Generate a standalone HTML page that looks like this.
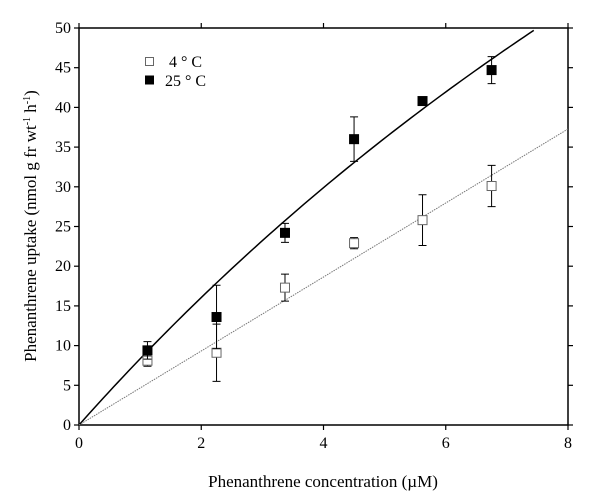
<!DOCTYPE html>
<html><head><meta charset="utf-8"><style>
body{margin:0;background:#fff}
svg{display:block;font-family:"Liberation Serif",serif}
</style></head><body>
<svg id="chart" width="600" height="501"></svg>
<script>
const xVals=[1.12,2.25,3.37,4.5,5.62,6.75];
const y4=[8.1,9.1,17.3,22.9,25.8,30.1];
const e4=[0.7,3.6,1.7,0.7,3.2,2.6];
const y25=[9.4,13.6,24.2,36.0,40.8,44.7];
const e25=[1.1,4.0,1.2,2.8,0.3,1.7];
const xTicks=[0,2,4,6,8];
const yTicks=[0,5,10,15,20,25,30,35,40,45,50];
const fit25V=216.7, fit25K=25, fit4Slope=4.66;
const NS='http://www.w3.org/2000/svg';
const svg=document.getElementById('chart');
const X0=79,X1=568,Y0=425,Y1=28;
const sx=v=>X0+(v/8)*(X1-X0);
const sy=v=>Y0-(v/50)*(Y0-Y1);
function mk(t,a,p){const e=document.createElementNS(NS,t);for(const k in a)e.setAttribute(k,a[k]);(p||svg).appendChild(e);return e;}
let fr=mk('rect',{x:X0,y:Y1,width:X1-X0,height:Y0-Y1,fill:'none',stroke:'#000','stroke-width':1.5});


xTicks.forEach(t=>{
  const x=sx(t);
  let l=mk('line',{x1:x,x2:x,y1:Y0,y2:Y0+5,stroke:'#000','stroke-width':1.2});
  
  
  let l2=mk('line',{x1:x,x2:x,y1:Y1,y2:Y1-5,stroke:'#000','stroke-width':1.2});
  
  
  let tx=mk('text',{x:x,y:Y0+23,'text-anchor':'middle','font-size':16});
  tx.textContent=t;
  
  
});
yTicks.forEach(t=>{
  const y=sy(t);
  let l=mk('line',{x1:X0-5,x2:X0,y1:y,y2:y,stroke:'#000','stroke-width':1.2});
  
  
  let l2=mk('line',{x1:X1,x2:X1+5,y1:y,y2:y,stroke:'#000','stroke-width':1.2});
  
  
  let tx=mk('text',{x:X0-8,y:y+5,'text-anchor':'end','font-size':16});
  tx.textContent=t;
  
  
});
let d='';for(let i=0;i<=100;i++){const x=i*0.08;const y=fit25V*x/(fit25K+x);if(y>50)break;d+=(i?'L':'M')+sx(x)+','+sy(y);}
let c25=mk('path',{d:d,fill:'none',stroke:'#000','stroke-width':1.5});


let c4=mk('line',{x1:sx(0),y1:sy(0),x2:sx(8),y2:sy(8*fit4Slope),stroke:'#777','stroke-width':1,'stroke-dasharray':'1.5,1'});


function series(ys,es,fill,name){
  xVals.forEach((xv,i)=>{
    const x=sx(xv),y=sy(ys[i]),t=sy(ys[i]+es[i]),b=sy(ys[i]-es[i]);
    let g=mk('g',{});
    
    
    mk('path',{d:`M${x},${t}V${b}M${x-4},${t}H${x+4}M${x-4},${b}H${x+4}`,stroke:'#000','stroke-width':1,fill:'none'},g);
    mk('rect',{x:x-4.5,y:y-4.5,width:9,height:9,fill:fill,stroke:fill=='#000'?'#000':'#666','stroke-width':1},g);
  });
}
series(y4,e4,'#fff','series-4c');
series(y25,e25,'#000','series-25c');
let lg=mk('g',{});


mk('rect',{x:145.5,y:57.5,width:8,height:8,fill:'#fff',stroke:'#666'},lg);
mk('rect',{x:145.5,y:76,width:8,height:8,fill:'#000',stroke:'#000'},lg);
let t1=mk('text',{x:169,y:67,'font-size':16},lg);t1.textContent='4 \u00B0 C';
let t2=mk('text',{x:165,y:86,'font-size':16},lg);t2.textContent='25 \u00B0 C';
let xl=mk('text',{x:323,y:487,'text-anchor':'middle','font-size':17});
xl.textContent='Phenanthrene concentration (\u00B5M)';


let yl=mk('text',{x:0,y:0,'text-anchor':'middle','font-size':17,transform:'translate(36,226) rotate(-90)'});
yl.innerHTML='Phenanthrene uptake (nmol g fr wt<tspan dy="-6" font-size="10">-1</tspan><tspan dy="6"> h</tspan><tspan dy="-6" font-size="10">-1</tspan><tspan dy="6">)</tspan>';


</script>
</body></html>
